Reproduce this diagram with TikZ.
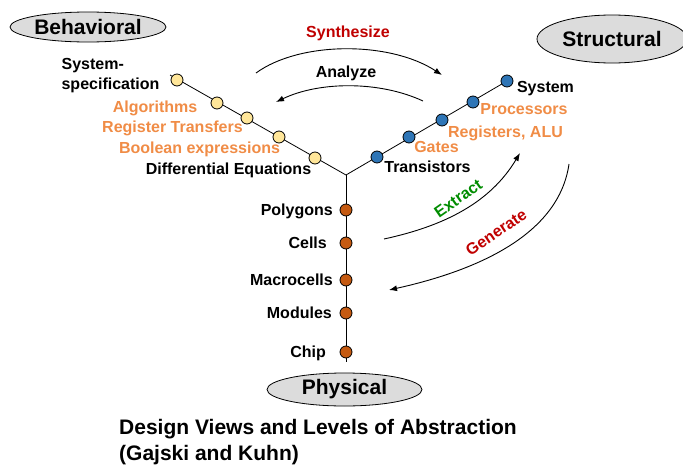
\documentclass[tikz,border=0pt]{standalone}
\usepackage{fontspec}
\setmainfont{Liberation Sans}
\usetikzlibrary{shapes.geometric,arrows.meta}

\definecolor{viewgray}{RGB}{220,220,220}
\definecolor{behyellow}{RGB}{255,230,153}
\definecolor{strblue}{RGB}{46,117,182}
\definecolor{phybrown}{RGB}{197,90,17}
\definecolor{lvlorange}{RGB}{240,140,70}
\definecolor{synred}{RGB}{192,0,0}
\definecolor{extgreen}{RGB}{0,140,0}

\tikzset{
  view/.style={ellipse, draw, fill=viewgray, inner sep=0pt, line width=0.8pt,
    font=\fontsize{21}{24}\selectfont\bfseries},
  lvl/.style={inner sep=0pt, text height=11.5pt, text depth=0pt,
    font=\fontsize{16}{20}\selectfont\bfseries},
  lvlo/.style={lvl, text=lvlorange},
  dotb/.style={circle, draw, line width=0.8pt, minimum size=12pt, inner sep=0pt, fill=behyellow},
  dots/.style={dotb, fill=strblue},
  dotp/.style={dotb, fill=phybrown},
  flow/.style={line width=0.9pt, -{Latex[length=8pt,width=6pt]}},
  captxt/.style={anchor=base west, inner sep=0pt, font=\fontsize{21}{26}\selectfont\bfseries}
}

\begin{document}
\begin{tikzpicture}[x=1pt,y=-1pt]
  \useasboundingbox (0,0) rectangle (683,466);

  % the three views
  \node[view, minimum width=156pt, minimum height=30pt] (beh) at (88,27) {Behavioral};
  \node[view, minimum width=150pt, minimum height=48pt] (str) at (612,39) {Structural};
  \node[view, minimum width=155pt, minimum height=33pt] (phy) at (344.5,389.5) {Physical};

  % the Y
  \coordinate (J) at (346,175);
  \coordinate (bEnd) at (170,75);
  \coordinate (sEnd) at (507,81);
  \coordinate (pEnd) at (346,362);
  \draw[line width=0.8pt] (bEnd) -- (J) -- (sEnd);
  \draw[line width=0.8pt] (J) -- (pEnd);

  % behavioral levels
  \node[dotb] (b1) at (177,80) {};
  \node[dotb] (b2) at (217,103) {};
  \node[dotb] (b3) at (247,118) {};
  \node[dotb] (b4) at (279,137) {};
  \node[dotb] (b5) at (315,158) {};
  \node[lvl, align=left, text height=, font=\fontsize{16}{20}\selectfont\bfseries] (bL1) at (110.5,74) {System-\\specification};
  \node[lvlo] (bL2) at (155,107) {Algorithms};
  \node[lvlo] (bL3) at (172.5,127) {Register Transfers};
  \node[lvlo] (bL4) at (199.5,148) {Boolean expressions};
  \node[lvl] (bL5) at (228.5,169) {Differential Equations};

  % structural levels
  \node[dots] (s1) at (377,157) {};
  \node[dots] (s2) at (409,137) {};
  \node[dots] (s3) at (442,120) {};
  \node[dots] (s4) at (473,102) {};
  \node[dots] (s5) at (507,81) {};
  \node[lvl] (sL1) at (427.5,167) {Transistors};
  \node[lvlo] (sL2) at (436.5,147) {Gates};
  \node[lvlo] (sL3) at (505.5,132) {Registers, ALU};
  \node[lvlo] (sL4) at (524,109) {Processors};
  \node[lvl] (sL5) at (545.5,87) {System};

  % physical levels
  \node[dotp] (p1) at (346,210) {};
  \node[dotp] (p2) at (346,243) {};
  \node[dotp] (p3) at (346,280) {};
  \node[dotp] (p4) at (346,313) {};
  \node[dotp] (p5) at (346,352) {};
  \node[lvl, anchor=east] (pL1) at (333,210) {Polygons};
  \node[lvl, anchor=east] (pL2) at (327,243) {Cells};
  \node[lvl, anchor=east] (pL3) at (333,280) {Macrocells};
  \node[lvl, anchor=east] (pL4) at (332,313) {Modules};
  \node[lvl, anchor=east] (pL5) at (326,352) {Chip};

  % transformations
  \coordinate (synA) at (256,73);
  \coordinate (synB) at (442,75);
  \draw[flow] (synA) .. controls (300,41) and (390,41) .. (synB);
  \node[lvl, text=synred] (syn) at (348,32) {Synthesize};

  \coordinate (anaA) at (423,101);
  \coordinate (anaB) at (276,102);
  \draw[flow] (anaA) .. controls (380,81) and (320,81) .. (anaB);
  \node[lvl] (ana) at (346,72) {Analyze};

  \coordinate (extA) at (384,239);
  \coordinate (extB) at (520,153);
  \draw[flow] (extA) .. controls (444,226) and (490,203) .. (extB);
  \node[lvl, text=extgreen, rotate=35] (ext) at (458,198) {Extract};

  \coordinate (genA) at (569,164);
  \coordinate (genB) at (389,290);
  \draw[flow] (genA) .. controls (559,234) and (479,270) .. (genB);
  \node[lvl, text=synred, rotate=34] (gen) at (496,232) {Generate};

  % caption
  \node[captxt] (cap1) at (119,434.5) {Design Views and Levels of Abstraction};
  \node[captxt] (cap2) at (119,460) {(Gajski and Kuhn)};
\end{tikzpicture}
\end{document}
